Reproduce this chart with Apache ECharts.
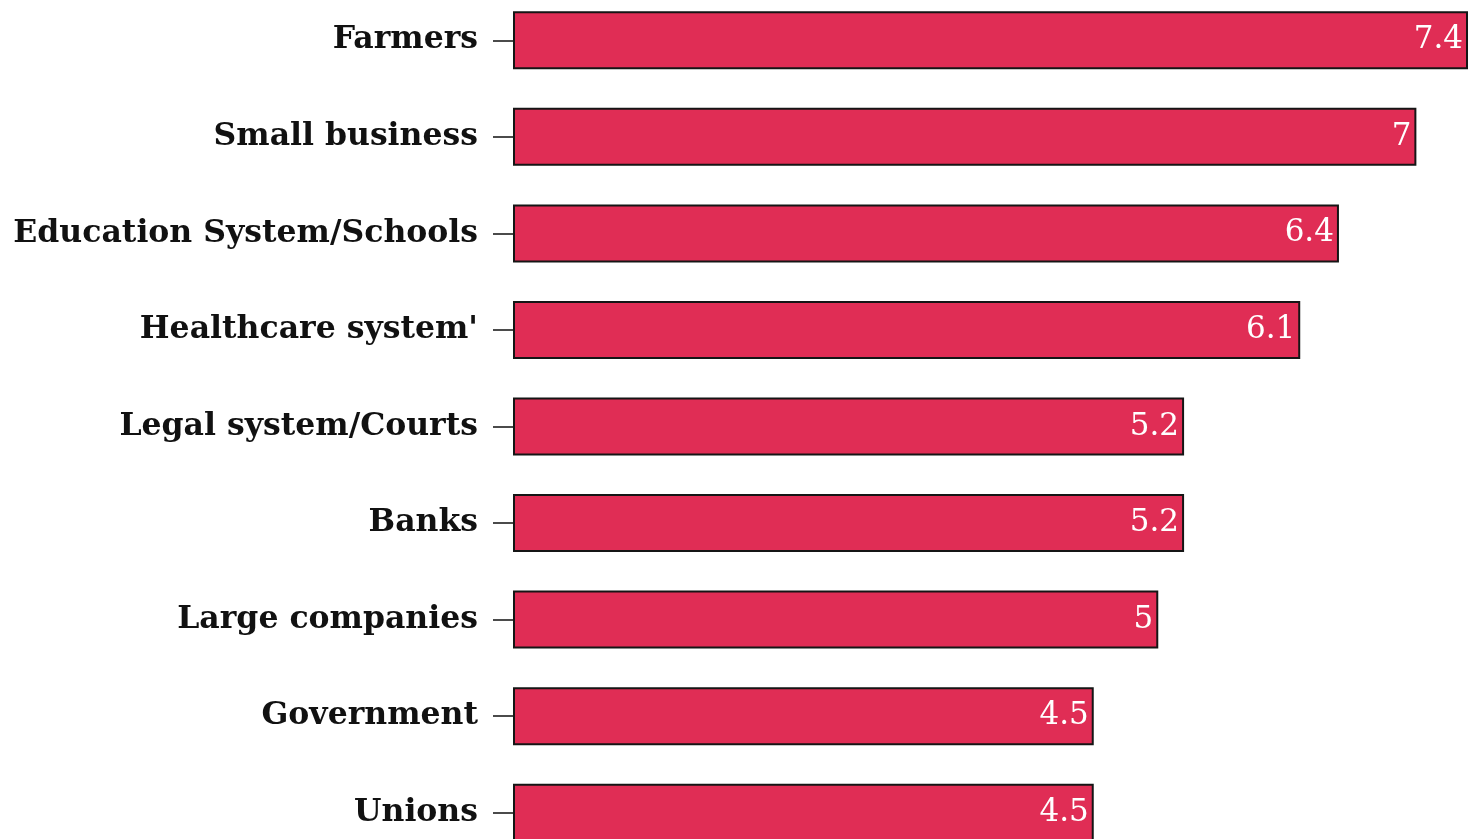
<!DOCTYPE html>
<html>
<head>
<meta charset="utf-8">
<style>
  html, body { margin: 0; padding: 0; background: #ffffff; overflow: hidden; }
  #wrap { position: relative; width: 1468px; height: 839px; overflow: hidden; }
  /* the plot runs slightly past the top and bottom edges of the page */
  #chart { position: absolute; left: 0; top: -8px; width: 1468px; height: 869px; }
</style>
<script src="https://cdn.jsdelivr.net/npm/echarts@6/dist/echarts.min.js"></script>
</head>
<body>
<div id="wrap"><div id="chart"></div></div>
<script>
// Trust score by institution, highest first
const categories = [
  'Farmers',
  'Small business',
  'Education System/Schools',
  "Healthcare system'",
  'Legal system/Courts',
  'Banks',
  'Large companies',
  'Government',
  'Unions'
];
const scores = [7.4, 7, 6.4, 6.1, 5.2, 5.2, 5, 4.5, 4.5];

const FONT = '"DejaVu Serif", serif';

const chart = echarts.init(document.getElementById('chart'), null, { renderer: 'canvas' });
chart.setOption({
  animation: false,
  backgroundColor: '#ffffff',
  grid: { left: 513, right: 0, top: 0, bottom: 0, containLabel: false },
  xAxis: {
    type: 'value',
    min: 0,
    max: 7.4,
    show: false
  },
  yAxis: {
    type: 'category',
    data: categories,
    inverse: true,
    axisLine: { show: false },
    axisTick: { show: true, alignWithLabel: true, length: 20, lineStyle: { color: '#111111', width: 1.5 } },
    axisLabel: {
      margin: 35,
      color: '#111111',
      fontFamily: FONT,
      fontWeight: 'bold',
      fontSize: 31.5
    },
    splitLine: { show: false }
  },
  series: [{
    type: 'bar',
    data: scores,
    barWidth: 58,
    itemStyle: { color: '#e02d55', borderColor: '#151515', borderWidth: 2 },
    label: {
      show: true,
      position: 'insideRight',
      distance: 5,
      color: '#ffffff',
      fontFamily: FONT,
      fontSize: 31
    }
  }]
});
</script>
</body>
</html>
